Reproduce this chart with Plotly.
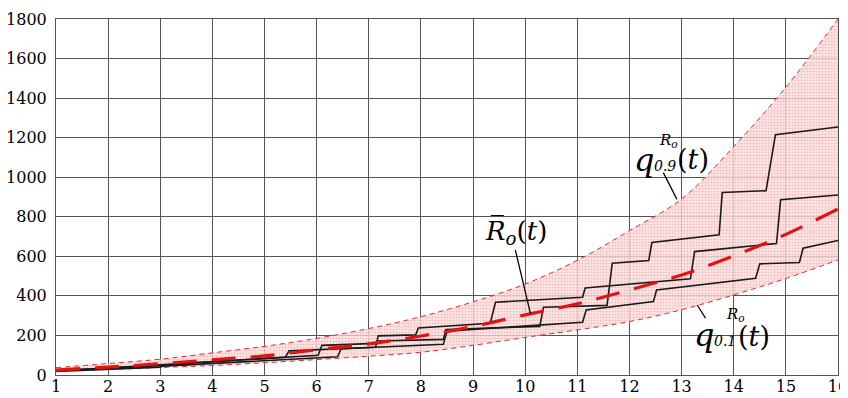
import plotly.graph_objects as go

# ---- data ----
t_grid = [1, 2, 3, 4, 5, 6, 7, 8, 9, 10, 11, 12, 13, 14, 15, 16]
q09 = [37, 58, 80, 112, 145, 185, 235, 295, 370, 460, 580, 730, 890, 1155, 1455, 1800]
q01 = [20, 28, 38, 48, 62, 78, 95, 115, 150, 190, 228, 270, 330, 405, 488, 582]
mean_R = [25, 40, 57, 77, 97, 128, 157, 197, 245, 304, 360, 430, 506, 602, 711, 840]

S1_t = [1.0, 3.6, 3.65, 6.03, 6.1, 7.13, 7.18, 8.43, 8.48, 10.28, 10.35, 11.57, 11.67, 12.37, 12.43, 13.72, 13.78, 14.62, 14.8, 16.0]
S1_v = [22, 55, 62, 100, 150, 160, 172, 180, 230, 246, 343, 352, 565, 579, 670, 709, 923, 932, 1215, 1254]
S2_t = [1.0, 5.4, 5.47, 7.13, 7.18, 7.9, 7.95, 9.33, 9.43, 11.1, 11.15, 13.17, 13.25, 14.82, 14.9, 16.0]
S2_v = [20, 90, 122, 140, 198, 203, 238, 262, 368, 393, 440, 486, 624, 665, 886, 910]
S3_t = [1.0, 3.0, 3.05, 6.4, 6.47, 8.43, 8.5, 11.1, 11.17, 12.46, 12.52, 14.42, 14.5, 15.26, 15.33, 16.0]
S3_v = [18, 40, 45, 92, 133, 155, 222, 267, 329, 371, 430, 489, 562, 569, 641, 680]

x_ticks = list(range(1, 17))
y_ticks = list(range(0, 1801, 200))

SERIF = "DejaVu Serif"
RED = "rgb(230,40,40)"

fig = go.Figure()

# band
fig.add_trace(go.Scatter(x=t_grid, y=q01, mode="lines", line=dict(color=RED, width=1, dash="5px,4px", shape="spline"),
                         showlegend=False, hoverinfo="skip"))
fig.add_trace(go.Scatter(x=t_grid, y=q09, mode="lines", line=dict(color=RED, width=1, dash="5px,4px", shape="spline"),
                         fill="tonexty", fillcolor="rgba(250,215,215,0.7)",
                         fillpattern=dict(shape=".", fgcolor="rgba(220,90,90,0.6)", bgcolor="rgba(252,228,228,0.8)",
                                          size=3, solidity=0.4),
                         showlegend=False, hoverinfo="skip"))

# step realisations
for tx, vy in [(S1_t, S1_v), (S2_t, S2_v), (S3_t, S3_v)]:
    fig.add_trace(go.Scatter(x=tx, y=vy, mode="lines", line=dict(color="#1a1a1a", width=1.6),
                             showlegend=False, hoverinfo="skip"))

# mean
fig.add_trace(go.Scatter(x=t_grid, y=mean_R, mode="lines",
                         line=dict(color="rgb(225,20,20)", width=3.2, dash="24px,15px", shape="spline"),
                         showlegend=False, hoverinfo="skip"))

# annotations
ann = []
def A(x, y, text, size, xanchor="left"):
    ann.append(dict(x=x, y=y, xref="x", yref="y", text=text, showarrow=False,
                    font=dict(family=SERIF, size=size, color="black"), xanchor=xanchor, yanchor="middle"))

A(9.83, 724, "<i>R\u0305</i><sub><i>o</i></sub>(<i>t</i>)", 26, "center")
A(12.05, 1085, "<i>q</i>", 32)
A(12.52, 1188, "<i>R<sub>o</sub></i>", 15)
A(12.44, 1058, "<i>0.9</i>", 14)
A(12.87, 1090, "(<i>t</i>)", 27)
A(13.19, 200, "<i>q</i>", 32)
A(13.82, 305, "<i>R<sub>o</sub></i>", 15)
A(13.58, 170, "<i>0.1</i>", 14)
A(14.04, 197, "(<i>t</i>)", 27)

shapes = [
    dict(type="line", xref="x", yref="y", x0=9.81, y0=633, x1=10.1, y1=312, line=dict(color="black", width=1.3)),
    dict(type="line", xref="x", yref="y", x0=12.65, y0=1023, x1=12.91, y1=889, line=dict(color="black", width=1.3)),
    dict(type="line", xref="x", yref="y", x0=13.3, y0=354, x1=13.46, y1=287, line=dict(color="black", width=1.3)),
]

# page has an 8px body margin: figure drawn at (8,8), so size/margins compensate
fig.update_layout(
    width=840, height=390,
    margin=dict(l=48, r=10, t=11, b=23),
    paper_bgcolor="white", plot_bgcolor="white",
    font=dict(family=SERIF),
    annotations=ann, shapes=shapes,
    xaxis=dict(range=[1, 16], tickvals=x_ticks, ticktext=[str(v) for v in x_ticks], automargin=False,
               showgrid=True, gridcolor="rgb(85,85,85)", gridwidth=1, zeroline=False,
               showline=True, linecolor="rgb(85,85,85)", linewidth=1, mirror=True, ticklabeloverflow="allow",
               ticks="", tickfont=dict(family=SERIF, size=16, color="black"), ticklabelstandoff=-3),
    yaxis=dict(range=[0, 1800], tickvals=y_ticks, ticktext=[str(v) for v in y_ticks], automargin=False,
               showgrid=True, gridcolor="rgb(85,85,85)", gridwidth=1, zeroline=False,
               showline=True, linecolor="rgb(85,85,85)", linewidth=1, mirror=True, ticklabeloverflow="allow",
               ticks="", tickfont=dict(family=SERIF, size=16, color="black"), ticklabelstandoff=5),
)

fig.write_html("out.html")
